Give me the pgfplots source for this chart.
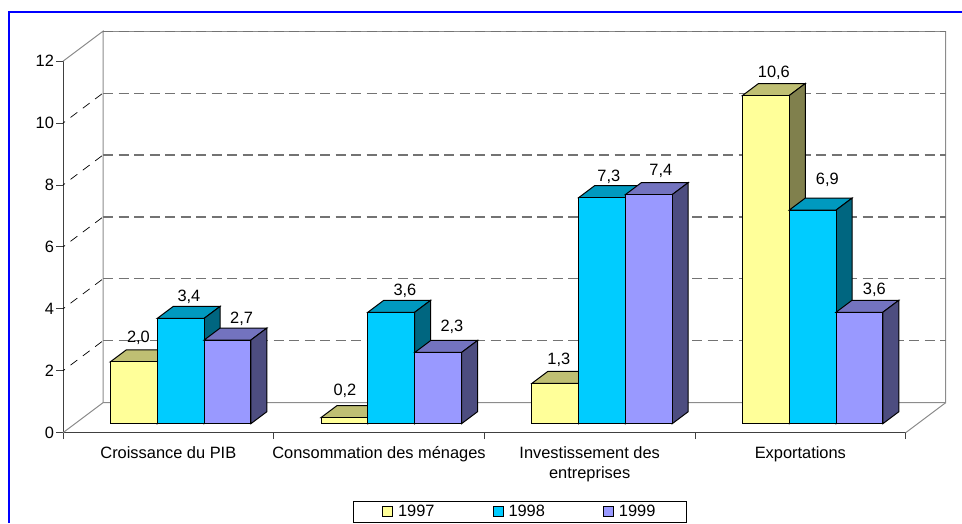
\documentclass[border=0pt]{standalone}
\usepackage{fontspec}
\setmainfont{Liberation Sans}
\usepackage{pgfplots}
\usepackage{pgfplotstable}
\pgfplotsset{compat=1.18}

\definecolor{yfront}{HTML}{FFFF99}
\definecolor{ytop}{HTML}{BFBF73}
\definecolor{yside}{HTML}{80804D}
\definecolor{bfront}{HTML}{00CCFF}
\definecolor{btop}{HTML}{0099BF}
\definecolor{bside}{HTML}{006680}
\definecolor{pfront}{HTML}{9999FF}
\definecolor{ptop}{HTML}{7373BF}
\definecolor{pside}{HTML}{4D4D80}

\newcommand{\lab}{\fontsize{16.4}{20.5}\selectfont}

% front face, top and side of one bar; the mark origin is the data point
\newcommand{\barbox}[4]{%
  \pgfmathsetmacro{\xa}{#4-23.4}%
  \pgfmathsetmacro{\xb}{#4+23.4}%
  \pgfmathsetmacro{\xc}{#4+39.4}%
  \pgfmathsetmacro{\xd}{#4-7.4}%
  \pgfmathsetmacro{\ya}{9-\rawy*30.96}%
  \pgfmathsetmacro{\yb}{21-\rawy*30.96}%
  \draw[fill=#2,draw=black,line width=1pt,line join=miter]
    (\xa pt,9pt) -- (\xb pt,9pt) -- (\xc pt,21pt) -- (\xd pt,21pt) -- cycle;
  \draw[fill=#3,draw=black,line width=1pt,line join=miter]
    (\xb pt,9pt) -- (\xc pt,21pt) -- (\xc pt,\yb pt) -- (\xb pt,\ya pt) -- cycle;
  \draw[fill=#1,draw=black,line width=1pt,line join=miter]
    (\xa pt,9pt) rectangle (\xb pt,\ya pt);}
\pgfdeclareplotmark{barA}{\barbox{yfront}{ytop}{yside}{-34.5}}
\pgfdeclareplotmark{barB}{\barbox{bfront}{btop}{bside}{12.3}}
\pgfdeclareplotmark{barC}{\barbox{pfront}{ptop}{pside}{59.1}}

\pgfplotstableread{
x y lx ly
0.5 2.0 -29.9 34.8
1.5 0.2 -34.1 37.2
2.5 1.3 -30.8 34.2
3.5 10.6 -26.5 33.8
}\dataA
\pgfplotstableread{
x y lx ly
0.5 3.4 20.6 32.4
1.5 3.6 25.9 32.2
2.5 7.3 19.2 31.7
3.5 6.9 27.0 41.4
}\dataB
\pgfplotstableread{
x y lx ly
0.5 2.7 73.3 32.4
1.5 2.3 72.9 36.5
2.5 7.4 71.2 34.6
3.5 3.6 74.0 32.9
}\dataC

\pgfplotsset{
  barseries/.style={
    only marks,
    visualization depends on={y \as \rawy},
    visualization depends on={\thisrow{lx} \as \labx},
    visualization depends on={\thisrow{ly} \as \laby},
    nodes near coords*={\pgfmathprintnumber[fixed,fixed zerofill,precision=1,use comma,assume math mode=true]{\pgfplotspointmeta}},
    every node near coord/.append style={
      xshift=\labx pt,yshift=\laby pt-1.7pt,anchor=center,inner sep=0pt,font=\lab,text=black},
  },
}

\begin{document}
\begin{tikzpicture}
\path[use as bounding box] (0,0) rectangle (962pt,523pt);
\draw[blue,line width=2pt] (9pt,0pt) -- (9pt,511pt) -- (962pt,511pt);
\begin{axis}[
    at={(63pt,90.3pt)},
    anchor=south west,
    scale only axis,
    width=842.7pt,
    height=371.5pt,
    xmin=0, xmax=4,
    ymin=0, ymax=12,
    clip=false,
    axis x line=bottom,
    axis y line=left,
    axis line style={-,color=black!75,line width=1pt},
    tick style={color=black!75,line width=1pt},
    tick align=outside,
    major tick length=6.5pt,
    xtick={0,1,2,3,4},
    xticklabels={},
    extra x ticks={0.5,1.5,2.5,3.5},
    extra x tick labels={Croissance du PIB,Consommation des ménages,Investissement des\\entreprises,Exportations},
    extra x tick style={major tick length=0pt},
    x tick label style={align=center,font=\lab,yshift=-10pt},
    ytick={0,2,...,12},
    y tick label style={font=\lab,xshift=1pt,/pgf/number format/assume math mode=true},
    legend columns=3,
    legend style={
      at={(0.5420,-0.2125)},anchor=center,draw=black,line width=1pt,
      font=\lab,inner xsep=28.6pt,inner ysep=2pt,
      /tikz/every odd column/.append style={column sep=3pt},
      /tikz/every even column/.append style={column sep=56pt},
    },
]
% walls and floor
\draw[color=black!45,line width=1pt] (axis cs:0,0) -- ([shift={(40pt,30pt)}]axis cs:0,0)
  -- ([shift={(40pt,30pt)}]axis cs:4,0) -- ([shift={(40pt,30pt)}]axis cs:4,12);
\draw[color=black!45,line width=1pt] (axis cs:4,0) -- ([shift={(40pt,30pt)}]axis cs:4,0);
\draw[color=black!45,line width=1pt] ([shift={(40pt,30pt)}]axis cs:0,0) -- ([shift={(40pt,30pt)}]axis cs:0,12)
  -- (axis cs:0,12);
\draw[color=black!45,line width=1pt] ([shift={(40pt,30pt)}]axis cs:0,12) -- ([shift={(40pt,30pt)}]axis cs:4,12);
% gridlines, on the back wall and across the side wall
\pgfplotsinvokeforeach{2,4,...,12}{
  \draw[color=black!55,line width=1.2pt,dash pattern=on 10pt off 5.5pt]
    ([shift={(40pt,30pt)}]axis cs:0,#1) -- ([shift={(40pt,30pt)}]axis cs:4,#1);
}
\pgfplotsinvokeforeach{2,4,...,10}{
  \draw[color=black,line width=0.7pt,dash pattern=on 8.5pt off 6.9pt,dash phase=6pt]
    (axis cs:0,#1) -- ([shift={(40pt,30pt)}]axis cs:0,#1);
}

\addplot[barseries,mark=barA,
  legend image code/.code={\draw[fill=yfront,draw=black,line width=1pt] (0pt,-5pt) rectangle (10pt,5pt);}]
  table[x=x,y=y] {\dataA};
\addlegendentry{1997}
\addplot[barseries,mark=barB,
  legend image code/.code={\draw[fill=bfront,draw=black,line width=1pt] (0pt,-5pt) rectangle (10pt,5pt);}]
  table[x=x,y=y] {\dataB};
\addlegendentry{1998}
\addplot[barseries,mark=barC,
  legend image code/.code={\draw[fill=pfront,draw=black,line width=1pt] (0pt,-5pt) rectangle (10pt,5pt);}]
  table[x=x,y=y] {\dataC};
\addlegendentry{1999}
\end{axis}
\end{tikzpicture}
\end{document}
